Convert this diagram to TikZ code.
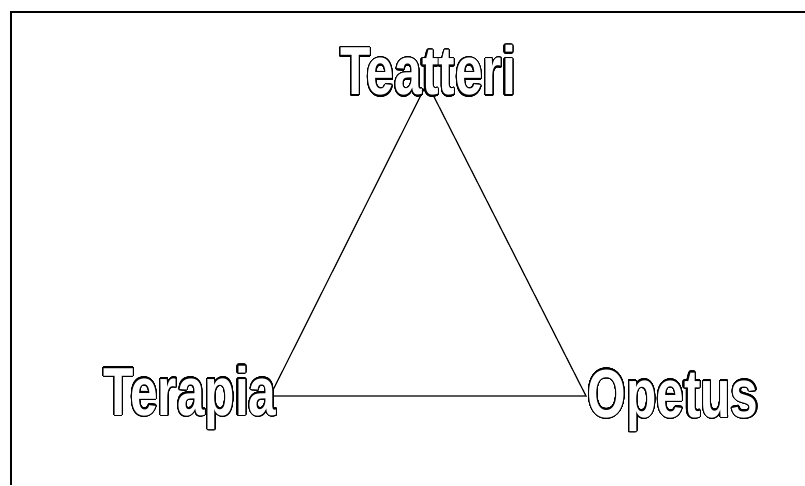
\documentclass[tikz,border=0pt]{standalone}
\usepackage{fontspec}
\usepackage{contour}
\newfontfamily\wordfont[FakeStretch=0.73]{Liberation Sans}
\contourlength{1.1pt}
\contournumber{48}
\begin{document}
\begin{tikzpicture}[x=1pt, y=1pt]
		% Node style
		\tikzstyle{word} = [inner sep=0pt, anchor=base, font=\wordfont\bfseries\fontsize{68}{68}\selectfont, text=white]
		\useasboundingbox (0,0) rectangle (805,485);
		
		% Frame
		\draw[line width=2pt] (11,0) |- (806,473);
		
		% Corners
		\coordinate (apex) at (427,402);
		\coordinate (left) at (270,89);
		\coordinate (right) at (586,89);
		
		% Lines
		\draw[line width=1.2pt] (apex) -- (left) -- (right) -- cycle;
		
		% Nodes
		\node[word] (teatteri) at (428,390) {\contour{black}{Teatteri}};
		\node[word] (terapia) at (190,70) {\contour{black}{Terapia}};
		\node[word] (opetus) at (673,68) {\contour{black}{Opetus}};
	\end{tikzpicture}
\end{document}
